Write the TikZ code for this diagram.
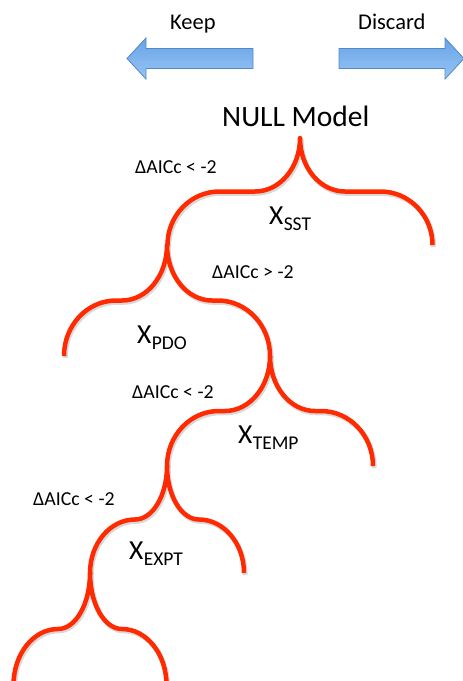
\documentclass[tikz,border=0pt]{standalone}
\usepackage{fontspec}
\setmainfont{Carlito}
\definecolor{bracered}{RGB}{255,42,0}
\definecolor{arrowtop}{RGB}{104,164,230}
\definecolor{arrowbot}{RGB}{150,196,244}
\definecolor{arrowedge}{RGB}{84,135,200}
\newcommand\bracecurve[6]{% tip x, tip y, half width, height, inner rx, outer rx
 ({#1-#3},{#2+#4})
 .. controls ({#1-#3},{#2+#4-0.5523*#4/2}) and ({#1-#3+#6-0.5523*#6},{#2+#4/2}) .. ({#1-#3+#6},{#2+#4/2})
 -- ({#1-#5},{#2+#4/2})
 .. controls ({#1-#5+0.5523*#5},{#2+#4/2}) and ({#1},{#2+0.5523*#4/2}) .. ({#1},{#2})
 .. controls ({#1},{#2+0.5523*#4/2}) and ({#1+#5-0.5523*#5},{#2+#4/2}) .. ({#1+#5},{#2+#4/2})
 -- ({#1+#3-#6},{#2+#4/2})
 .. controls ({#1+#3-#6+0.5523*#6},{#2+#4/2}) and ({#1+#3},{#2+#4-0.5523*#4/2}) .. ({#1+#3},{#2+#4})
}
\newcommand\xsub[1]{X\kern0.3pt\lower6pt\hbox{\fontsize{19.5}{19.5}\selectfont #1}}
\begin{document}
\begin{tikzpicture}[x=1pt,y=-1pt,
  bracepath/.style={draw=bracered, line width=4.5pt, line join=round},
  braceshadow/.style={draw=black, draw opacity=0.15, line width=5pt, line join=round, shift={(1.2pt,-1.8pt)}},
  fatarrow/.style={top color=arrowtop, bottom color=arrowbot, draw=arrowedge, line width=0.8pt, line join=miter},
  lbl/.style={inner sep=0pt, anchor=base west, font=\fontsize{19.8}{20}\selectfont},
  toplbl/.style={inner sep=0pt, anchor=base west, font=\fontsize{22.5}{23}\selectfont},
  biglbl/.style={inner sep=0pt, anchor=base west, font=\fontsize{29.5}{30}\selectfont},
  xlbl/.style={inner sep=0pt, anchor=base west, font=\fontsize{27.5}{28}\selectfont}]
\useasboundingbox (0,0) rectangle (463,681);
% arrows
\draw[fatarrow] (253,48.5) -- (146,48.5) -- (146,38) -- (127,58.5) -- (146,79) -- (146,68.5) -- (253,68.5) -- cycle;
\draw[fatarrow] (339,48.5) -- (445,48.5) -- (445,38) -- (464,58.5) -- (445,79) -- (445,68.5) -- (339,68.5) -- cycle;
\node[toplbl] (keep) at (170,29) {Keep};
\node[toplbl] (discard) at (358,29) {Discard};
\node[biglbl] (null) at (222,126) {NULL Model};
% braces: shadows then strokes
\draw[braceshadow] \bracecurve{300}{138}{132.5}{107}{45}{52};
\draw[braceshadow] \bracecurve{167}{245}{103}{111}{45}{52};
\draw[braceshadow] \bracecurve{270}{356}{103}{110}{45}{52};
\draw[braceshadow] \bracecurve{167}{466}{77}{107}{32}{45};
\draw[braceshadow] \bracecurve{90}{573}{76.5}{112}{32}{44.5};
\draw[bracepath] \bracecurve{300}{138}{132.5}{107}{45}{52};
\draw[bracepath] \bracecurve{167}{245}{103}{111}{45}{52};
\draw[bracepath] \bracecurve{270}{356}{103}{110}{45}{52};
\draw[bracepath] \bracecurve{167}{466}{77}{107}{32}{45};
\draw[bracepath] \bracecurve{90}{573}{76.5}{112}{32}{44.5};
% labels
\node[lbl] (c1) at (135,173) {ΔAICc < -2};
\node[xlbl] (sst) at (269,224) {\xsub{SST}};
\node[lbl] (c2) at (212,278) {ΔAICc > -2};
\node[xlbl] (pdo) at (137,343) {\xsub{PDO}};
\node[lbl] (c3) at (132,398) {ΔAICc < -2};
\node[xlbl] (temp) at (238,443) {\xsub{TEMP}};
\node[lbl] (c4) at (33,505) {ΔAICc < -2};
\node[xlbl] (expt) at (129,559) {\xsub{EXPT}};
\end{tikzpicture}
\end{document}
